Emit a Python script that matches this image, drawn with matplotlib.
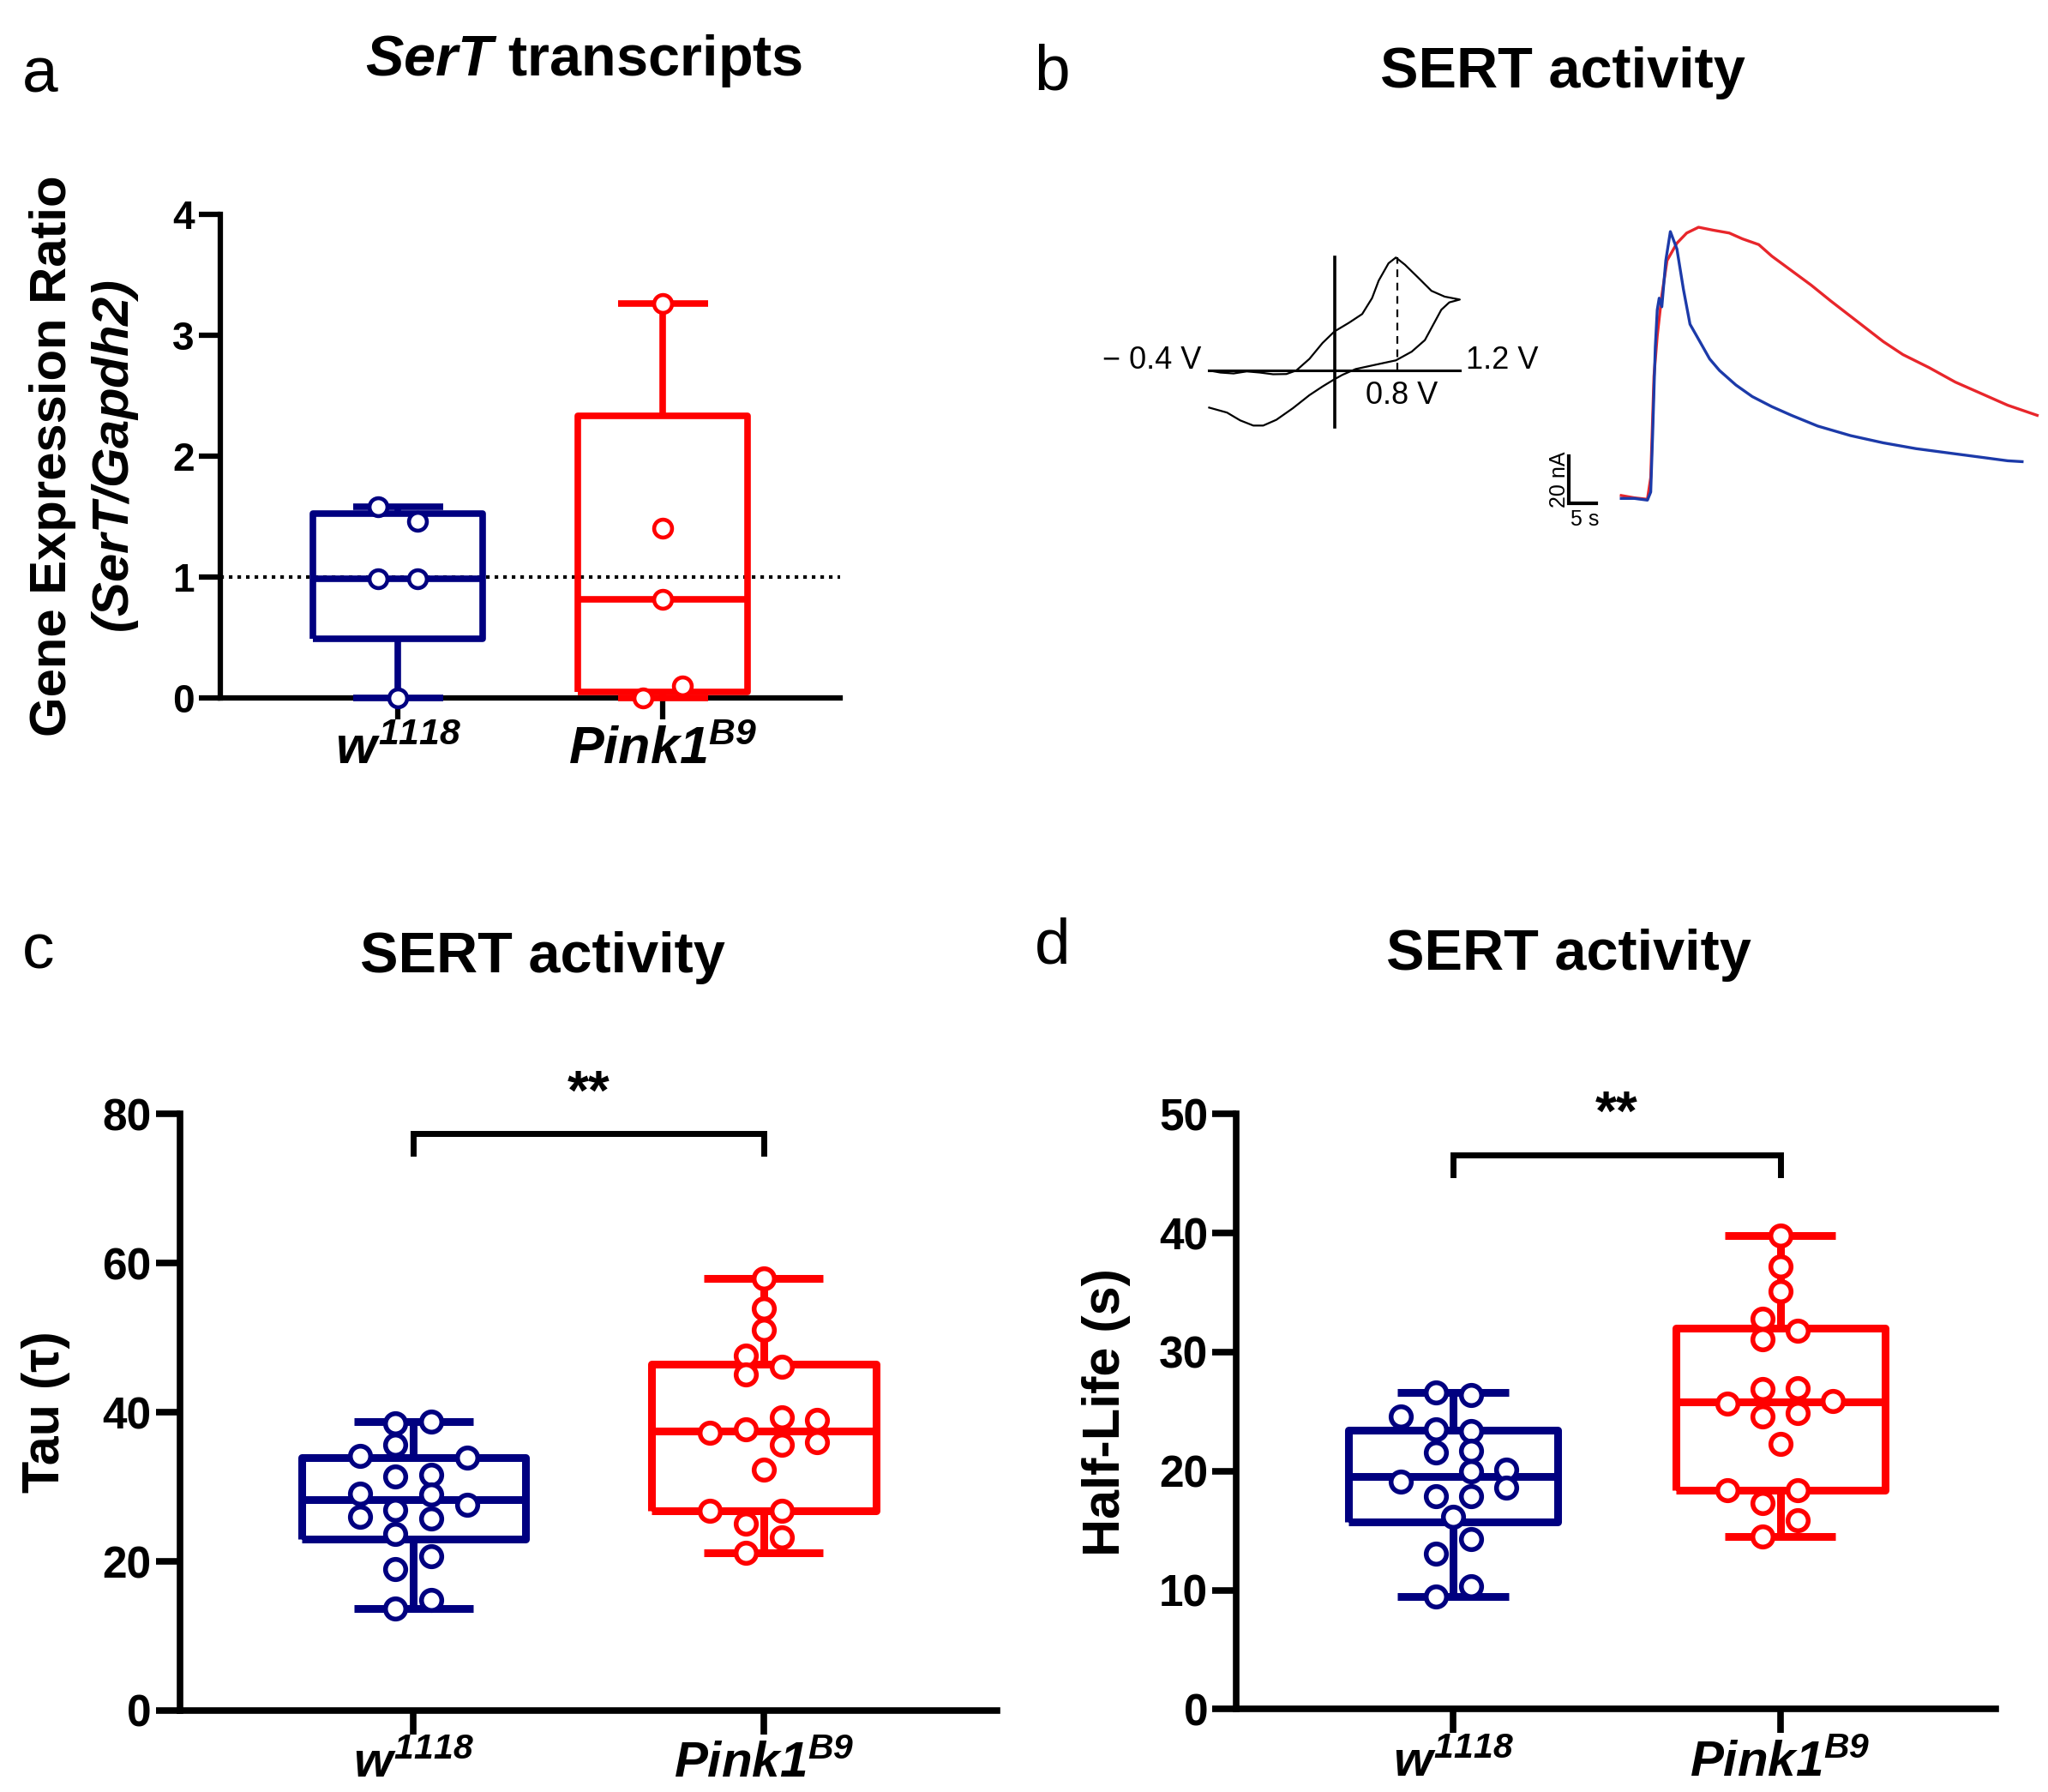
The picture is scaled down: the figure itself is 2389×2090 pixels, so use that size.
import numpy as np
import matplotlib
matplotlib.use('Agg')
import matplotlib.pyplot as plt

plt.rcParams['mathtext.fontset'] = 'custom'
plt.rcParams['mathtext.it'] = 'Liberation Sans:italic:bold'
plt.rcParams['mathtext.rm'] = 'Liberation Sans:italic:bold'
plt.rcParams['mathtext.bf'] = 'Liberation Sans:italic:bold'
plt.rcParams['font.family'] = ['Liberation Sans', 'DejaVu Sans']

NARROW = ['Liberation Sans Narrow', 'Liberation Sans']
BLUE = '#000080'
RED = '#ff0000'

# ---- data ----
groups = [r'$\mathit{w^{1118}}$', r'$\mathit{Pink1^{B9}}$']

# a: SerT / Gapdh2 expression ratio
a_w1118 = [1.58, 1.46, 0.98, 0.98, 0.0]
a_pink1 = [3.26, 1.40, 0.81, 0.10, 0.0]
a_w_col = [-1, 1, -1, 1, 0]
a_p_col = [0, 0, 0, 1, -1]

# c: tau
c_w1118 = [38.5, 38.8, 35.7, 34.1, 33.9, 31.4, 31.6, 29.1, 29.0,
           26.9, 26.0, 25.8, 27.6, 23.7, 20.7, 19.0, 14.8, 13.7]
c_w_col = [-0.5, 0.5, -0.5, -1.5, 1.5, -0.5, 0.5, -1.5, 0.5,
           -0.5, -1.5, 0.5, 1.5, -0.5, 0.5, -0.5, 0.5, -0.5]
c_pink1 = [57.9, 53.9, 51.0, 47.6, 45.1, 46.1, 39.3, 39.0, 37.2,
           37.7, 35.7, 36.0, 32.3, 26.8, 26.8, 25.1, 23.2, 21.2]
c_p_col = [0, 0, 0, -0.5, -0.5, 0.5, 0.5, 1.5, -1.5,
           -0.5, 0.5, 1.5, 0, -1.5, 0.5, -0.5, 0.5, -0.5]

# d: half-life (s)
d_w1118 = [26.6, 26.4, 24.6, 23.5, 23.4, 21.6, 21.7, 19.1, 20.0,
           20.1, 18.6, 17.9, 17.9, 16.2, 14.3, 13.1, 10.3, 9.5]
d_w_col = [-0.5, 0.5, -1.5, -0.5, 0.5, -0.5, 0.5, -1.5, 0.5,
           1.5, 1.5, -0.5, 0.5, 0, 0.5, -0.5, 0.5, -0.5]
d_pink1 = [39.8, 37.2, 35.1, 32.8, 31.1, 31.8, 26.9, 27.0, 25.7,
           25.9, 24.6, 24.9, 22.3, 18.4, 18.4, 17.3, 15.9, 14.5]
d_p_col = [0, 0, 0, -0.5, -0.5, 0.5, -0.5, 0.5, -1.5,
           1.5, -0.5, 0.5, 0, -1.5, 0.5, -0.5, 0.5, -0.5]

# b: cyclic voltammogram (potential V, normalised current)
cv_v = [-0.4, -0.328, -0.244, -0.16, -0.076, 0.008, 0.093, 0.156, 0.24, 0.324,
        0.4, 0.493, 0.577, 0.64, 0.682, 0.745, 0.792, 0.85, 0.935, 1.019, 1.103,
        1.2, 1.133, 1.082, 1.032, 0.977, 0.893, 0.792, 0.661, 0.535, 0.451, 0.4,
        0.324, 0.24, 0.135, 0.029, -0.055, -0.118, -0.202, -0.286, -0.4]
cv_i = [0, -0.018, -0.026, -0.008, -0.018, -0.033, -0.031, 0, 0.103, 0.244,
        0.346, 0.423, 0.5, 0.641, 0.795, 0.949, 1.0, 0.936, 0.821, 0.705, 0.654,
        0.628, 0.603, 0.538, 0.41, 0.269, 0.167, 0.09, 0.051, 0.013, -0.038, -0.077,
        -0.141, -0.218, -0.333, -0.436, -0.487, -0.487, -0.441, -0.372, -0.328]

# b: current traces (s, nA)
w_t = [0, 2.38, 4.76, 5.36, 5.71, 6.19, 6.55, 6.90, 7.38, 8.10, 8.93, 10.12, 11.31,
       12.5, 14.29, 16.07, 17.86, 20.83, 23.81, 27.38, 30.95, 35.71, 41.67, 47.62,
       53.57, 59.52, 65.48, 70.24, 72.86]
w_i = [0.36, 0.36, -0.36, 3.03, 27.27, 63.64, 79.39, 84.24, 80.61, 100.0, 112.12,
       104.85, 87.88, 73.33, 66.06, 58.79, 53.94, 47.88, 43.03, 38.79, 35.15, 30.67,
       26.67, 23.64, 21.21, 19.39, 17.58, 16.12, 15.76]
p_t = [0, 2.38, 4.76, 5.36, 5.95, 6.55, 7.38, 8.33, 10.12, 11.90, 14.05, 16.67,
       19.64, 22.02, 25.0, 27.38, 30.95, 34.52, 38.10, 42.86, 47.62, 51.19, 55.95,
       60.71, 65.48, 70.24, 75.6]
p_i = [1.58, 0.61, 0, 9.09, 51.52, 68.48, 85.45, 100.0, 107.27, 111.52, 113.94,
       112.73, 111.52, 109.09, 106.67, 101.82, 95.76, 89.70, 83.03, 74.55, 66.06,
       60.61, 55.15, 49.09, 44.24, 39.39, 35.15]


def draw_box(ax, pos, vals, cols, step, color, lw, ms, mew):
    v = np.asarray(vals, dtype=float)
    q1, med, q3 = np.percentile(v, [25, 50, 75], method='weibull')
    st = dict(med=med, q1=q1, q3=q3, whislo=v.min(), whishi=v.max(), fliers=[])
    lp = dict(color=color, lw=lw, solid_capstyle='butt')
    art = ax.bxp([st], positions=[pos], widths=0.64, capwidths=0.34,
                 showfliers=False, boxprops=lp, medianprops=lp,
                 whiskerprops=lp, capprops=lp)
    for k in art.values():
        for a in k:
            a.set_clip_on(False)
            a.set_zorder(3)
    ax.plot(pos + np.asarray(cols) * step, v, 'o', ms=ms, mfc='white', mec=color,
            mew=mew, ls='none', clip_on=False, zorder=4)


def style_axes(ax, spine_w, tick_len, ytick_fs, xtick_fs):
    for s in ['top', 'right']:
        ax.spines[s].set_visible(False)
    for s in ['left', 'bottom']:
        ax.spines[s].set_linewidth(spine_w)
    ax.tick_params(width=spine_w, length=tick_len, direction='out')
    ax.tick_params(axis='y', pad=4)
    ax.tick_params(axis='x', pad=6)
    ax.set_xticks([0, 1])
    ax.set_xticklabels(groups, fontsize=xtick_fs)
    for t in ax.get_yticklabels():
        t.set_family(NARROW)
        t.set_fontweight('bold')
        t.set_fontsize(ytick_fs)


def bracket(ax, y_top, y_leg, y_star):
    ax.plot([0, 0, 1, 1], [y_leg, y_top, y_top, y_leg], color='black', lw=5,
            clip_on=False, solid_joinstyle='miter')
    ax.text(0.5, y_star, '**', ha='center', va='center', fontsize=46,
            fontweight='bold')


fig = plt.figure(figsize=(23.89, 20.90), dpi=100)

# ---- panel a ----
ax_a = fig.add_axes([0.1077, 0.6107, 0.3026, 0.2698])
ax_a.set_xlim(-0.67, 1.67)
ax_a.set_ylim(0, 4)
ax_a.set_yticks([0, 1, 2, 3, 4])
ax_a.axhline(1, color='black', lw=3, ls=(0, (1, 1.4)), zorder=2)
draw_box(ax_a, 0, a_w1118, a_w_col, 0.075, BLUE, 5.5, 15, 3.3)
draw_box(ax_a, 1, a_pink1, a_p_col, 0.075, RED, 5.5, 15, 3.3)
style_axes(ax_a, 4.5, 18, 33, 44)

fig.text(0.0256, 0.7456, 'Gene Expression Ratio', rotation=90, ha='center',
         va='center', fontsize=43, fontweight='bold')
fig.text(0.0564, 0.7456, r'$\mathit{(SerT/Gapdh2)}$', rotation=90, ha='center',
         va='center', fontsize=43)
fig.text(0.285, 0.958, r'$\mathit{SerT}$ transcripts', ha='center', va='baseline',
         fontsize=48, fontweight='bold')

# ---- panel b ----
ax_cv = fig.add_axes([0.5904, 0.7617, 0.1224, 0.0946])
ax_cv.set_xlim(-0.4, 1.2)
ax_cv.set_ylim(-0.5, 1.0)
ax_cv.axis('off')
ax_cv.plot(cv_v, cv_i, color='black', lw=1.6, clip_on=False)
ax_cv.plot([-0.4, 1.2], [0, 0], color='black', lw=2.2, clip_on=False)
ax_cv.plot([0.4, 0.4], [-0.5, 1.0], color='black', lw=2.6, clip_on=False)
ax_cv.plot([0.8, 0.8], [0, 1.0], color='black', lw=1.6, ls=(0, (4, 3)), clip_on=False)
ax_cv.text(-0.45, 0.09, '\u2212 0.4 V', ha='right', va='center', fontsize=26,
           family=NARROW)
ax_cv.text(1.24, 0.09, '1.2 V', ha='left', va='center', fontsize=26, family=NARROW)
ax_cv.text(0.83, -0.22, '0.8 V', ha='center', va='center', fontsize=26, family=NARROW)

ax_tr = fig.add_axes([0.754, 0.7054, 0.2418, 0.1692])
ax_tr.set_xlim(-14, 76)
ax_tr.set_ylim(-12, 115)
ax_tr.axis('off')
ax_tr.plot(p_t, p_i, color='#e8262b', lw=2.4, clip_on=False)
ax_tr.plot(w_t, w_i, color='#1c3aa9', lw=2.4, clip_on=False)
ax_tr.plot([-9.5, -9.5, -4.5], [18.2, -1.8, -1.8], color='black', lw=3,
           solid_joinstyle='miter', clip_on=False)
ax_tr.text(-11.2, 8.2, '20 nA', rotation=90, ha='center', va='center', fontsize=18,
           family=NARROW)
ax_tr.text(-6.6, -8.5, '5 s', ha='center', va='center', fontsize=18, family=NARROW)
fig.text(0.763, 0.951, 'SERT activity', ha='center', va='baseline', fontsize=48,
         fontweight='bold')

# ---- panel c ----
ax_c = fig.add_axes([0.0878, 0.0455, 0.3992, 0.3328])
ax_c.set_xlim(-0.667, 1.667)
ax_c.set_ylim(0, 80)
ax_c.set_yticks([0, 20, 40, 60, 80])
draw_box(ax_c, 0, c_w1118, c_w_col, 0.102, BLUE, 6.5, 17, 4)
draw_box(ax_c, 1, c_pink1, c_p_col, 0.102, RED, 6.5, 17, 4)
bracket(ax_c, 77.4, 74.7, 82.6)
style_axes(ax_c, 5.5, 20, 37, 42)
fig.text(0.0224, 0.212, 'Tau (\u03c4)', rotation=90, ha='center', va='center',
         fontsize=44, fontweight='bold')
fig.text(0.265, 0.4575, 'SERT activity', ha='center', va='baseline', fontsize=48,
         fontweight='bold')

# ---- panel d ----
ax_d = fig.add_axes([0.6038, 0.0462, 0.3706, 0.3321])
ax_d.set_xlim(-0.663, 1.659)
ax_d.set_ylim(0, 50)
ax_d.set_yticks([0, 10, 20, 30, 40, 50])
draw_box(ax_d, 0, d_w1118, d_w_col, 0.108, BLUE, 6.5, 17, 4)
draw_box(ax_d, 1, d_pink1, d_p_col, 0.108, RED, 6.5, 17, 4)
bracket(ax_d, 46.6, 44.9, 49.9)
style_axes(ax_d, 5.5, 20, 37, 42)
fig.text(0.540, 0.212, 'Half-Life (s)', rotation=90, ha='center', va='center',
         fontsize=44, fontweight='bold')
fig.text(0.766, 0.459, 'SERT activity', ha='center', va='baseline', fontsize=48,
         fontweight='bold')

# panel letters
for lab, x, y in [('a', 0.011, 0.9487), ('b', 0.505, 0.950),
                  ('c', 0.011, 0.4597), ('d', 0.505, 0.4626)]:
    fig.text(x, y, lab, ha='left', va='baseline', fontsize=54)

fig.savefig('out.png', dpi=100)
